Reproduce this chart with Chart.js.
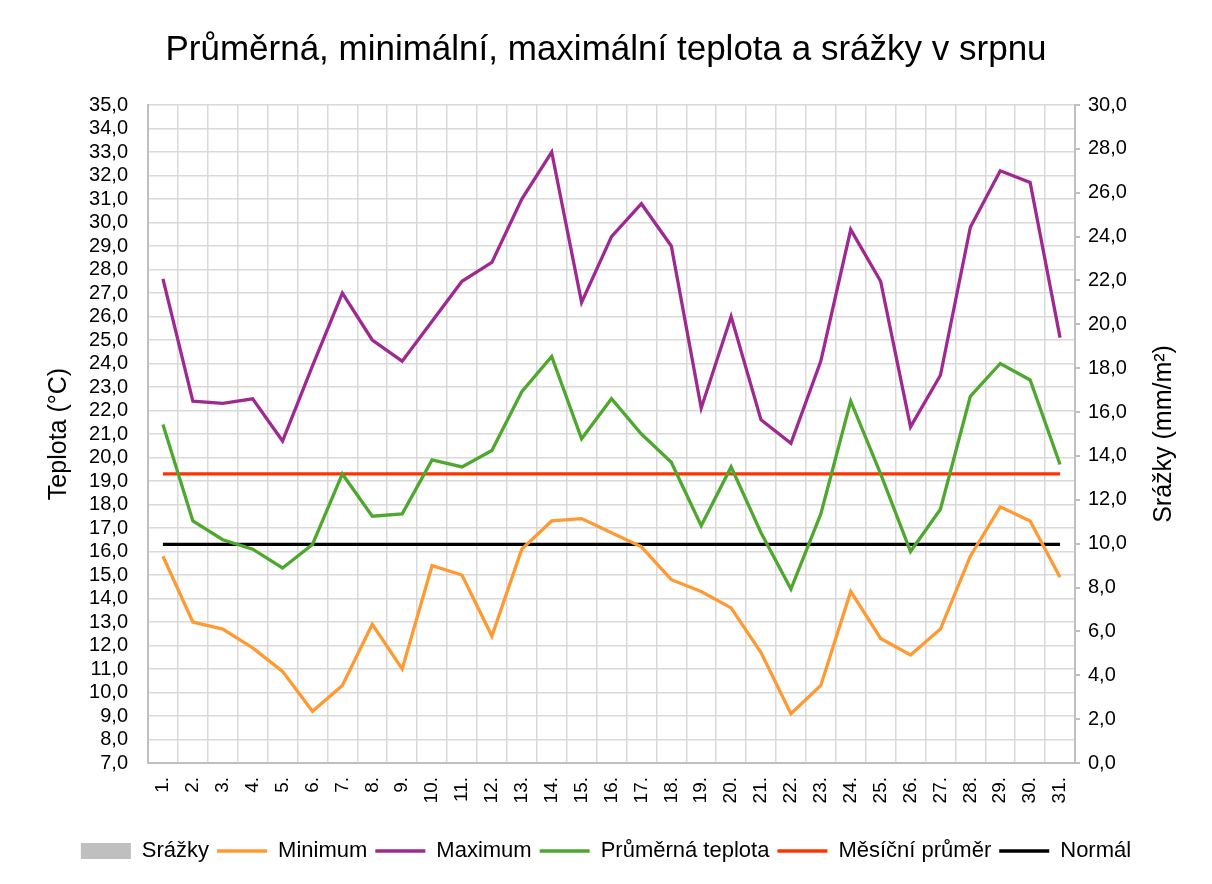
<!DOCTYPE html>
<html>
<head>
<meta charset="utf-8">
<script src="https://cdn.jsdelivr.net/npm/chart.js@4/dist/chart.umd.min.js"></script>
<style>
    html, body { margin: 0; padding: 0; background: #fff; }
    #wrap { width: 1212px; height: 884px; position: relative; }
</style>
</head>
<body>
<div id="wrap"><canvas id="weatherChart"></canvas></div>
<script>
// dny v srpnu
const days = ['1.', '2.', '3.', '4.', '5.', '6.', '7.', '8.', '9.', '10.',
    '11.', '12.', '13.', '14.', '15.', '16.', '17.', '18.', '19.', '20.',
    '21.', '22.', '23.', '24.', '25.', '26.', '27.', '28.', '29.', '30.', '31.'];

const srazky = [0, 0, 0, 0, 0, 0, 0, 0, 0, 0, 0, 0, 0, 0, 0, 0, 0, 0, 0, 0,
    0, 0, 0, 0, 0, 0, 0, 0, 0, 0, 0];

const minimum = [15.8, 13.0, 12.7, 11.9, 10.9, 9.2, 10.3, 12.9, 11.0, 15.4,
    15.0, 12.4, 16.1, 17.3, 17.4, 16.8, 16.2, 14.8, 14.3, 13.6,
    11.7, 9.1, 10.3, 14.3, 12.3, 11.6, 12.7, 15.8, 17.9, 17.3, 14.9];

const maximum = [27.6, 22.4, 22.3, 22.5, 20.7, 23.9, 27.0, 25.0, 24.1, 25.8,
    27.5, 28.3, 31.0, 33.0, 26.6, 29.4, 30.8, 29.0, 22.1, 26.0,
    21.6, 20.6, 24.1, 29.7, 27.5, 21.3, 23.5, 29.8, 32.2, 31.7, 25.1];

const prumer = [21.4, 17.3, 16.5, 16.1, 15.3, 16.3, 19.3, 17.5, 17.6, 19.9,
    19.6, 20.3, 22.8, 24.3, 20.8, 22.5, 21.0, 19.8, 17.1, 19.6,
    16.8, 14.4, 17.6, 22.4, 19.3, 16.0, 17.8, 22.6, 24.0, 23.3, 19.7];

const mesicniPrumer = days.map(() => 19.3);
const normal = days.map(() => 16.3);

const FONT = "'Liberation Sans', Arial, sans-serif";

function czNum(v) {
    return Number(v).toFixed(1).replace('.', ',');
}

// popisek prave osy (cte se zdola nahoru jako v Excelu)
const rightTitlePlugin = {
    id: 'rightTitle',
    afterDraw(chart) {
        const ctx = chart.ctx;
        const area = chart.chartArea;
        ctx.save();
        ctx.translate(1164, (area.top + area.bottom) / 2);
        ctx.rotate(-Math.PI / 2);
        ctx.font = '25px ' + FONT;
        ctx.fillStyle = '#000';
        ctx.textAlign = 'center';
        ctx.textBaseline = 'middle';
        ctx.fillText('Srážky (mm/m²)', 0, 0);
        ctx.restore();
    }
};

const ctx = document.getElementById('weatherChart').getContext('2d');
const weatherChart = new Chart(ctx, {
    data: {
        labels: days,
        datasets: [
            {
                type: 'bar',
                label: 'Srážky',
                data: srazky,
                yAxisID: 'y1',
                backgroundColor: '#BFBFBF',
                borderWidth: 0,
                pointStyle: 'rect'
            },
            {
                type: 'line',
                label: 'Minimum',
                data: minimum,
                yAxisID: 'y',
                borderColor: '#FF9A33',
                backgroundColor: '#FF9A33',
                borderWidth: 3.3,
                pointRadius: 0,
                pointStyle: 'line'
            },
            {
                type: 'line',
                label: 'Maximum',
                data: maximum,
                yAxisID: 'y',
                borderColor: '#9E2A91',
                backgroundColor: '#9E2A91',
                borderWidth: 3.3,
                pointRadius: 0,
                pointStyle: 'line'
            },
            {
                type: 'line',
                label: 'Průměrná teplota',
                data: prumer,
                yAxisID: 'y',
                borderColor: '#4EA72E',
                backgroundColor: '#4EA72E',
                borderWidth: 3.3,
                pointRadius: 0,
                pointStyle: 'line'
            },
            {
                type: 'line',
                label: 'Měsíční průměr',
                data: mesicniPrumer,
                yAxisID: 'y',
                borderColor: '#FF3300',
                backgroundColor: '#FF3300',
                borderWidth: 3.3,
                pointRadius: 0,
                pointStyle: 'line'
            },
            {
                type: 'line',
                label: 'Normál',
                data: normal,
                yAxisID: 'y',
                borderColor: '#000000',
                backgroundColor: '#000000',
                borderWidth: 3.3,
                pointRadius: 0,
                pointStyle: 'line'
            }
        ]
    },
    options: {
        responsive: true,
        maintainAspectRatio: false,
        animation: false,
        layout: {
            padding: { left: 20, right: 20, top: 10, bottom: 12 }
        },
        plugins: {
            title: {
                display: true,
                text: 'Průměrná, minimální, maximální teplota a srážky v srpnu',
                color: '#000',
                font: { family: FONT, size: 35, weight: 'normal' },
                padding: { top: 19, bottom: 34 }
            },
            legend: {
                display: true,
                position: 'bottom',
                labels: {
                    usePointStyle: true,
                    pointStyleWidth: 50,
                    boxHeight: 16,
                    color: '#000',
                    padding: 8,
                    font: { family: FONT, size: 22 }
                }
            },
            tooltip: { enabled: false }
        },
        scales: {
            x: {
                offset: true,
                grid: {
                    offset: true,
                    color: '#D9D9D9',
                    lineWidth: 1.5,
                    drawTicks: false
                },
                border: { color: '#BFBFBF', width: 2 },
                ticks: {
                    color: '#000',
                    minRotation: 90,
                    maxRotation: 90,
                    autoSkip: false,
                    padding: 14,
                    font: { family: FONT, size: 19 }
                },
                afterFit: (scale) => { scale.height = 69; }
            },
            y: {
                position: 'left',
                min: 7,
                max: 35,
                grid: {
                    color: '#D9D9D9',
                    lineWidth: 1.5,
                    drawTicks: false
                },
                border: { color: '#BFBFBF', width: 2 },
                ticks: {
                    stepSize: 1,
                    autoSkip: false,
                    color: '#000',
                    padding: 20,
                    font: { family: FONT, size: 20 },
                    callback: (v) => czNum(v)
                },
                title: {
                    display: true,
                    text: 'Teplota (°C)',
                    color: '#000',
                    font: { family: FONT, size: 25 },
                    padding: { top: 24, bottom: 0 }
                },
                afterFit: (scale) => { scale.width = 128; }
            },
            y1: {
                position: 'right',
                min: 0,
                max: 30,
                grid: {
                    drawOnChartArea: false,
                    color: '#BFBFBF',
                    lineWidth: 2,
                    tickLength: 5
                },
                border: { color: '#BFBFBF', width: 2 },
                ticks: {
                    stepSize: 2,
                    autoSkip: false,
                    color: '#000',
                    padding: 8,
                    font: { family: FONT, size: 20 },
                    callback: (v) => czNum(v)
                },
                afterFit: (scale) => { scale.width = 117; }
            }
        }
    },
    plugins: [rightTitlePlugin]
});
</script>
</body>
</html>
